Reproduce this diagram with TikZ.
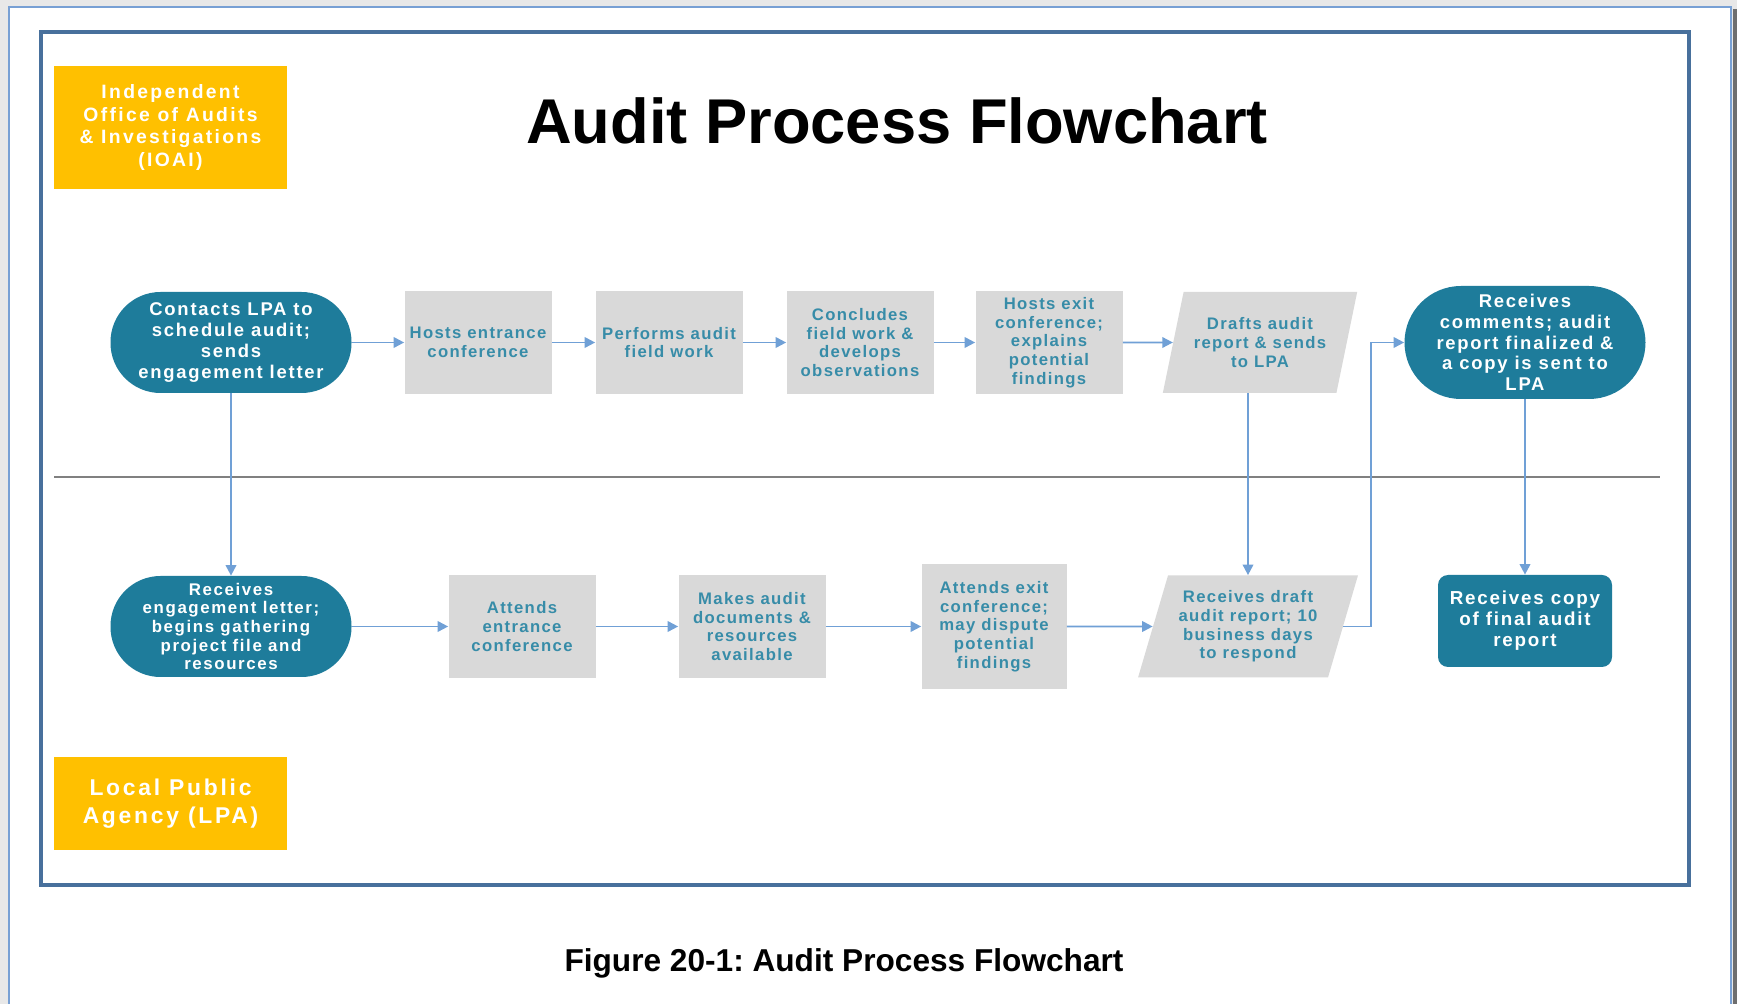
\documentclass[tikz,border=0pt]{standalone}
\usepackage{fontspec}
\setmainfont{Liberation Sans}
\newfontfamily\boxfont[LetterSpace=8]{Liberation Sans}
\newfontfamily\pillfont[LetterSpace=9.5]{Liberation Sans}
\newfontfamily\lanefont[LetterSpace=12]{Liberation Sans}
\usetikzlibrary{shapes.geometric,arrows.meta}
\frenchspacing

\definecolor{pillteal}{RGB}{30,124,155}
\definecolor{boxgrey}{RGB}{217,217,217}
\definecolor{boxtext}{RGB}{55,140,168}
\definecolor{flowblue}{RGB}{112,160,214}
\definecolor{laneyellow}{RGB}{255,192,0}
\definecolor{frameblue}{RGB}{72,112,156}
\definecolor{divgrey}{RGB}{128,128,128}
\definecolor{pagegrey}{RGB}{232,232,232}
\definecolor{pageblue}{RGB}{120,160,212}
\definecolor{edgegrey}{RGB}{110,110,110}

\tikzset{
  greybox/.style={rectangle,fill=boxgrey,text=boxtext,align=center,inner sep=0pt,
    minimum width=2.94cm,minimum height=2.06cm,
    font=\boxfont\bfseries\fontsize{9.5}{10.6}\selectfont},
  slantbox/.style={greybox,trapezium,trapezium left angle=70,trapezium right angle=110,
    trapezium stretches=true},
  pill/.style={rectangle,rounded corners=1cm,fill=pillteal,text=white,align=center,inner sep=0pt,
    minimum width=4.82cm,minimum height=2.02cm,
    font=\pillfont\bfseries\fontsize{10.5}{11.8}\selectfont},
  lane/.style={rectangle,fill=laneyellow,text=white,align=center,inner sep=0pt,minimum width=4.66cm},
  flow/.style={draw=flowblue,line width=1.1pt,-{Triangle[length=6pt,width=6pt]}}
}

\begin{document}
\begin{tikzpicture}
\useasboundingbox (0,0) rectangle (34.74,20.08);
\fill[color=pagegrey] (0,0) rectangle (34.74,20.08);
\fill[color=white] (0.18,0) rectangle (34.62,19.94);
\draw[color=pageblue,line width=0.6pt] (0.18,0) -- (0.18,19.94) -- (34.62,19.94) -- (34.62,0);
\fill[color=edgegrey] (34.66,0) rectangle (34.74,19.9);

\draw[color=frameblue,line width=2.3pt] (0.82,2.38) rectangle (33.78,19.44);

\node (ioai) at (3.41,17.53) [lane,minimum height=2.46cm,font=\lanefont\bfseries\fontsize{11}{13}\selectfont] {Independent\\Office of Audits\\\& Investigations\\(IOAI)};
\node (lpa) at (3.41,4.01) [lane,minimum height=1.86cm,font=\lanefont\bfseries\fontsize{13}{15.7}\selectfont] {Local Public\\Agency (LPA)};

\node (title) at (17.94,17.20) [anchor=base,font=\bfseries\fontsize{36}{40}\selectfont] {Audit Process Flowchart};
\node (caption) at (16.88,0.65) [anchor=base,font=\bfseries\fontsize{18}{20}\selectfont] {Figure 20-1: Audit Process Flowchart};

\draw[color=divgrey,line width=1.3pt] (1.08,10.54) -- (33.20,10.54);

\node (contacts) at (4.62,13.23) [pill] {Contacts LPA to\\schedule audit;\\sends\\engagement letter};
\node (hostsin) at (9.56,13.23) [greybox] {Hosts entrance\\conference};
\node (fieldwork) at (13.38,13.23) [greybox] {Performs audit\\field work};
\node (concludes) at (17.20,13.23) [greybox] {Concludes\\field work \&\\develops\\observations};
\node (hostsexit) at (20.98,13.23) [greybox] {Hosts exit\\conference;\\explains\\potential\\findings};
\node (drafts) at (25.20,13.23) [slantbox,minimum width=3.90cm,minimum height=2.02cm] {Drafts audit\\report \& sends\\to LPA};
\node (comments) at (30.50,13.23) [pill,rounded corners=1.13cm,minimum height=2.26cm] {Receives\\comments; audit\\report finalized \&\\a copy is sent to\\LPA};

\node (letter) at (4.62,7.55) [pill,font=\pillfont\bfseries\fontsize{9.6}{10.6}\selectfont] {Receives\\engagement letter;\\begins gathering\\project file and\\resources};
\node (attendsin) at (10.44,7.55) [greybox] {Attends\\entrance\\conference};
\node (documents) at (15.04,7.55) [greybox] {Makes audit\\documents \&\\resources\\available};
\node (attendsexit) at (19.88,7.55) [greybox,minimum width=2.90cm,minimum height=2.50cm] {Attends exit\\conference;\\may dispute\\potential\\findings};
\node (draft) at (24.96,7.55) [slantbox,minimum width=4.40cm,minimum height=2.04cm] {Receives draft\\audit report; 10\\business days\\to respond};
\node (copy) at (30.50,7.66) [pill,rounded corners=0.2cm,minimum width=3.48cm,minimum height=1.84cm,font=\pillfont\bfseries\fontsize{10.7}{12}\selectfont] {Receives copy\\of final audit\\report};

\coordinate (turn) at (27.42,13.23);

\draw[flow] (contacts) -- (hostsin);
\draw[flow] (hostsin) -- (fieldwork);
\draw[flow] (fieldwork) -- (concludes);
\draw[flow] (concludes) -- (hostsexit);
\draw[flow] (hostsexit) -- (drafts);
\draw[flow] (letter) -- (attendsin);
\draw[flow] (attendsin) -- (documents);
\draw[flow] (documents) -- (attendsexit);
\draw[flow] (attendsexit) -- (draft);
\draw[flow] (contacts) -- (letter);
\draw[flow] (draft.north |- drafts.south) -- (draft.north);
\draw[flow] (comments) -- (copy);
\draw[flow] (draft.east) -| (turn) -- (comments.west);

\end{tikzpicture}
\end{document}
